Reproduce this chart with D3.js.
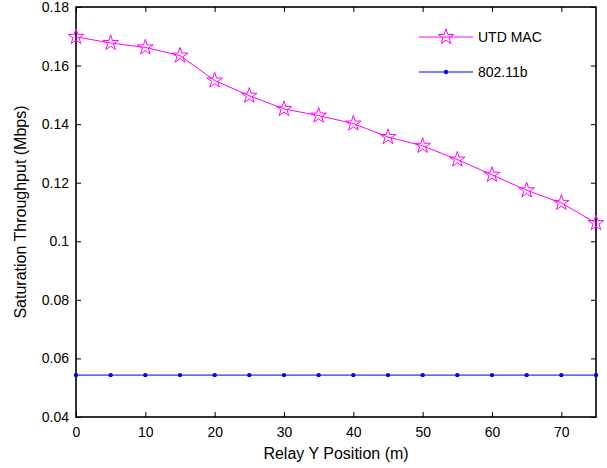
<!DOCTYPE html>
<html>
<head>
<meta charset="utf-8">
<script src="https://cdn.jsdelivr.net/npm/d3@7"></script>
<style>
  body { margin: 0; background: #fff; }
  text { font-family: "Liberation Sans", Arial, sans-serif; fill: #000; }
</style>
</head>
<body>
<svg width="607" height="468"></svg>
<script>
const positions = [0, 5, 10, 15, 20, 25, 30, 35, 40, 45, 50, 55, 60, 65, 70, 75];
const utdMac = [0.1698, 0.1677, 0.1662, 0.1634, 0.1549, 0.1497, 0.1452, 0.1429, 0.1402, 0.1356, 0.1326, 0.1279, 0.1227, 0.1174, 0.1131, 0.1062];
const dot11b = [0.0543, 0.0543, 0.0543, 0.0543, 0.0543, 0.0543, 0.0543, 0.0543, 0.0543, 0.0543, 0.0543, 0.0543, 0.0543, 0.0543, 0.0543, 0.0543];
const xTicks = [0, 10, 20, 30, 40, 50, 60, 70];
const yTicks = [0.04, 0.06, 0.08, 0.1, 0.12, 0.14, 0.16, 0.18];

const margin = {top: 7, right: 11, bottom: 51, left: 76},
      width = 607 - margin.left - margin.right,
      height = 468 - margin.top - margin.bottom;

const svg = d3.select("svg")
  .append("g")
  .attr("transform", "translate(" + margin.left + "," + margin.top + ")");

const x = d3.scaleLinear().domain([0, 75]).range([0, width]);
const y = d3.scaleLinear().domain([0.04, 0.18]).range([height, 0]);

// axes with inward ticks on all four sides
function styleAxis(g) {
  g.select(".domain").remove();
  g.selectAll(".tick line").attr("stroke", "#000").attr("stroke-width", 1);
  g.selectAll("text").style("font-size", "14px").attr("fill", "#000");
}
svg.append("g")
  .attr("transform", "translate(0," + height + ")")
  .call(d3.axisBottom(x).tickValues(xTicks).tickSize(-5).tickPadding(10).tickFormat(d3.format("d")))
  .call(styleAxis);
svg.append("g")
  .call(d3.axisTop(x).tickValues(xTicks).tickSize(-5).tickFormat(""))
  .call(styleAxis);
svg.append("g")
  .call(d3.axisLeft(y).tickValues(yTicks).tickSize(-5).tickPadding(7).tickFormat(d => d3.format("")(+d.toFixed(2))))
  .call(styleAxis);
svg.append("g")
  .attr("transform", "translate(" + width + ",0)")
  .call(d3.axisRight(y).tickValues(yTicks).tickSize(-5).tickFormat(""))
  .call(styleAxis);

svg.append("rect")
  .attr("width", width).attr("height", height)
  .attr("fill", "none").attr("stroke", "#000").attr("stroke-width", 1.6);

const line = d3.line().x(d => x(d[0])).y(d => y(d[1]));
const starPath = d3.symbol().type(d3.symbolStar).size(75);

// UTD MAC
const utdPts = positions.map((p, i) => [p, utdMac[i]]);
svg.append("path").datum(utdPts)
  .attr("d", line).attr("fill", "none").attr("stroke", "#ff00ff").attr("stroke-width", 1);
svg.selectAll(".star").data(utdPts).enter().append("path")
  .attr("class", "star")
  .attr("d", starPath)
  .attr("transform", d => "translate(" + x(d[0]) + "," + y(d[1]) + ")")
  .attr("fill", "none").attr("stroke", "#ff00ff").attr("stroke-width", 1);

// 802.11b
const bPts = positions.map((p, i) => [p, dot11b[i]]);
svg.append("path").datum(bPts)
  .attr("d", line).attr("fill", "none").attr("stroke", "#0000ff").attr("stroke-width", 1);
svg.selectAll(".dot").data(bPts).enter().append("circle")
  .attr("class", "dot")
  .attr("cx", d => x(d[0])).attr("cy", d => y(d[1])).attr("r", 2.2)
  .attr("fill", "#0000ff");

// legend
const legend = svg.append("g").attr("transform", "translate(" + (419 - margin.left) + "," + (37 - margin.top) + ")");
legend.append("line").attr("x1", 0).attr("x2", 54).attr("stroke", "#ff00ff");
legend.append("path").attr("d", starPath).attr("transform", "translate(27,0)")
  .attr("fill", "none").attr("stroke", "#ff00ff");
legend.append("text").attr("x", 59).attr("dy", "0.35em").style("font-size", "14px").text("UTD MAC");
const l2 = legend.append("g").attr("transform", "translate(0,35)");
l2.append("line").attr("x1", 0).attr("x2", 54).attr("stroke", "#0000ff");
l2.append("circle").attr("cx", 27).attr("r", 2.2).attr("fill", "#0000ff");
l2.append("text").attr("x", 59).attr("dy", "0.35em").style("font-size", "14px").text("802.11b");

// axis labels
svg.append("text")
  .attr("x", width / 2).attr("y", height + 42)
  .attr("text-anchor", "middle").style("font-size", "16px")
  .text("Relay Y Position (m)");
svg.append("text")
  .attr("transform", "rotate(-90)")
  .attr("x", -height / 2).attr("y", -50)
  .attr("text-anchor", "middle").style("font-size", "16px")
  .text("Saturation Throughput (Mbps)");
</script>
</body>
</html>
